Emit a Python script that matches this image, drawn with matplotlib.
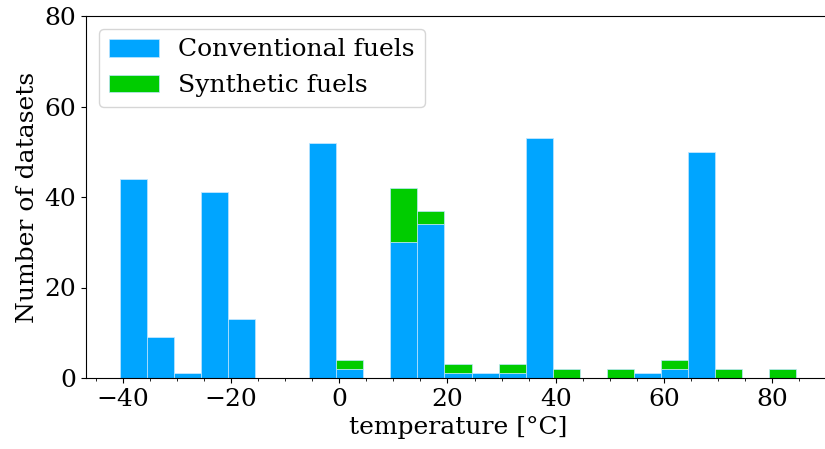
import numpy as np
import matplotlib
matplotlib.use('Agg')
import matplotlib.pyplot as plt
from matplotlib.ticker import MultipleLocator

# histogram bins (width 5 degC) and counts
bin_start = -40.55
bin_width = 5
n_bins = 25
conventional = [44, 9, 1, 41, 13, 0, 0, 52, 2, 0, 30, 34, 1, 1, 1, 53, 0, 0, 0, 1, 2, 50, 0, 0, 0]
synthetic = [0, 0, 0, 0, 0, 0, 0, 0, 2, 0, 12, 3, 2, 0, 2, 0, 2, 0, 2, 0, 2, 0, 2, 0, 2]
labels = ['Conventional fuels', 'Synthetic fuels']
colors = ['#00a5ff', '#00cc00']

plt.rcParams['font.family'] = 'DejaVu Serif'
plt.rcParams['font.size'] = 18

edges = bin_start + bin_width * np.arange(n_bins + 1)
centers = (edges[:-1] + edges[1:]) / 2

fig = plt.figure(figsize=(8.25, 4.49), dpi=100)
ax = fig.add_axes([86 / 825, 71 / 449, 744 / 825, 362 / 449])

ax.hist([centers, centers], bins=edges, weights=[conventional, synthetic],
        stacked=True, color=colors, label=labels,
        edgecolor='#bfe6ff', linewidth=0.5)

ax.set_ylim(0, 80)
ax.set_yticks([0, 20, 40, 60, 80])
ax.xaxis.set_major_locator(MultipleLocator(20))
ax.xaxis.set_minor_locator(MultipleLocator(5))
ax.spines['right'].set_visible(False)
ax.set_xlabel('temperature [°C]')
ax.set_ylabel('Number of datasets')
ax.legend(loc='upper left')

fig.savefig('out.png', dpi=100)
